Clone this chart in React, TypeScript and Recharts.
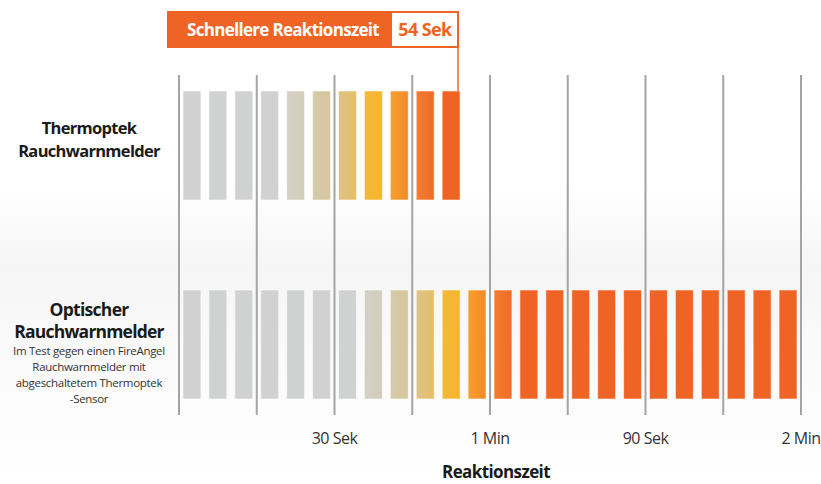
import { BarChart, Bar, XAxis, YAxis, CartesianGrid, Cell } from 'recharts';

// rows (categories) and how many 5-second segments each detector needed
const rows = ['Thermoptek', 'Optischer'];
const segmentSeconds = 5;
const segmentCounts = [11, 24];

// colour key of each segment, per row
const thermoptekSegments = [
  'gray', 'gray', 'gray', 'gray',
  'warm1', 'warm2', 'tanYellow', 'yellow', 'orangeGrad', 'orangeRed',
  'orange',
];
const optischSegments = [
  'gray', 'gray', 'gray', 'gray', 'gray', 'gray', 'gray',
  'warm1', 'warm2', 'tanYellow', 'yellow', 'orangeGrad', 'orangeRed',
  'orange', 'orange', 'orange', 'orange', 'orange', 'orange',
  'orange', 'orange', 'orange', 'orange', 'orange',
];
const rowSegments = [thermoptekSegments, optischSegments];

const xTicks = [0, 15, 30, 45, 60, 75, 90, 105, 120];
const xTickLabels: Record<number, string> = {
  30: '30 Sek',
  60: '1 Min',
  90: '90 Sek',
  120: '2 Min',
};

const highlightValue = '54 Sek';

// note under the optical detector label
const noteLines = [
  'Im Test gegen einen FireAngel',
  'Rauchwarnmelder mit',
  'abgeschaltetem Thermoptek',
  '-Sensor',
];

// gradient stops for each colour key
const gradients: Record<string, [string, string]> = {
  gray: ['#d0d1d1', '#d0d1d1'],
  warm1: ['#d2d0c8', '#d4cdb8'],
  warm2: ['#d5caab', '#d8c69d'],
  tanYellow: ['#dcc48c', '#e6bd62'],
  yellow: ['#f2b93c', '#f8b428'],
  orangeGrad: ['#f6a02e', '#f38a2a'],
  orangeRed: ['#f47c30', '#f06a27'],
  orange: ['#ef6424', '#ef6424'],
};

const maxSegments = Math.max(...segmentCounts);
const chartData = rows.map((name, r) => {
  const row: Record<string, any> = { name };
  for (let i = 0; i < segmentCounts[r]; i++) row[`s${i}`] = segmentSeconds;
  return row;
});

const FONT = '"Open Sans", "DejaVu Sans", sans-serif';

const SegmentShape = (props: any) => {
  const { x, y, width, height, fill } = props;
  if (!width || width <= 8) return <g />;
  return (
    <rect
      x={x + 4}
      y={y}
      width={width - 8}
      height={height}
      fill={fill}
      stroke="rgba(255,255,255,0.55)"
      strokeWidth={1}
    />
  );
};

const RowTick = (props: any) => {
  const { y, payload } = props;
  const cx = 89;
  if (payload.value === 'Thermoptek') {
    return (
      <g fontFamily={FONT} fill="#1a1a1a" textAnchor="middle">
        <text x={cx} y={y - 12} fontSize={16.5} fontWeight={700} letterSpacing={-0.7}>
          Thermoptek
        </text>
        <text x={cx} y={y + 11} fontSize={16.5} fontWeight={700} letterSpacing={-0.7}>
          Rauchwarnmelder
        </text>
      </g>
    );
  }
  return (
    <g fontFamily={FONT} fill="#1a1a1a" textAnchor="middle">
      <text x={cx} y={y - 29} fontSize={17.5} fontWeight={700} letterSpacing={-0.7}>
        Optischer
      </text>
      <text x={cx} y={y - 7} fontSize={17.5} fontWeight={700} letterSpacing={-0.8}>
        Rauchwarnmelder
      </text>
      {noteLines.map((line, i) => (
        <text
          key={i}
          x={cx}
          y={y + 10 + i * 16}
          fontSize={11.5}
          fill="#333"
          letterSpacing={-0.3}
        >
          {line}
        </text>
      ))}
    </g>
  );
};

function App() {
  return (
    <div
      style={{
        position: 'absolute',
        left: 0,
        top: 0,
        width: 821,
        height: 484,
        background:
          'linear-gradient(to bottom, #ffffff 0%, #ffffff 38%, #f5f5f5 55%, #fafafa 72%, #ffffff 100%)',
        fontFamily: FONT,
      }}
    >
      <BarChart
        width={821}
        height={484}
        data={chartData}
        layout="vertical"
        margin={{ top: 75, right: 20, left: 0, bottom: 0 }}
        barSize={109}
      >
        <defs>
          {Object.entries(gradients).map(([key, [from, to]]) => (
            <linearGradient key={key} id={`seg-${key}`} x1="0" y1="0" x2="1" y2="0">
              <stop offset="0%" stopColor={from} />
              <stop offset="100%" stopColor={to} />
            </linearGradient>
          ))}
        </defs>
        <CartesianGrid horizontal={false} stroke="#a4a4a4" strokeWidth={2} />
        <XAxis
          type="number"
          domain={[0, 120]}
          ticks={xTicks}
          interval={0}
          axisLine={false}
          tickLine={false}
          height={69}
          tickFormatter={(v: number) => xTickLabels[v] ?? ''}
          tick={{ fill: '#333', fontSize: 16, fontFamily: FONT, letterSpacing: -0.5 }}
          dy={10}
          label={{
            value: 'Reaktionszeit',
            position: 'insideBottom',
            offset: 6,
            dx: 6,
            fill: '#1a1a1a',
            fontSize: 17,
            fontWeight: 700,
            fontFamily: FONT,
            letterSpacing: -0.6,
          }}
        />
        <YAxis
          type="category"
          dataKey="name"
          width={179}
          axisLine={false}
          tickLine={false}
          padding={{ top: -29, bottom: -29 }}
          tick={<RowTick />}
        />
        {Array.from({ length: maxSegments }, (_, i) => (
          <Bar
            key={i}
            dataKey={`s${i}`}
            stackId="time"
            isAnimationActive={false}
            shape={<SegmentShape />}
          >
            {rows.map((_, r) => (
              <Cell key={r} fill={`url(#seg-${rowSegments[r][i] ?? 'orange'})`} />
            ))}
          </Bar>
        ))}
      </BarChart>

      {/* annotation box for the Thermoptek reaction time */}
      <svg
        width={821}
        height={484}
        style={{ position: 'absolute', left: 0, top: 0, pointerEvents: 'none' }}
      >
        <rect x={167} y={11} width={292} height={37} fill="#ef6424" />
        <rect x={392} y={13} width={65} height={33} fill="#ffffff" />
        <line x1={458} y1={46} x2={458} y2={91} stroke="#ef6424" strokeWidth={1.5} />
        <text
          x={283}
          y={36}
          textAnchor="middle"
          fill="#ffffff"
          fontSize={17}
          fontWeight={700}
          fontFamily={FONT}
          letterSpacing={-0.7}
        >
          Schnellere Reaktionszeit
        </text>
        <text
          x={425}
          y={36}
          textAnchor="middle"
          fill="#ef6424"
          fontSize={18}
          fontWeight={700}
          fontFamily={FONT}
          letterSpacing={-0.6}
        >
          {highlightValue}
        </text>
      </svg>
    </div>
  );
}

export default App;
